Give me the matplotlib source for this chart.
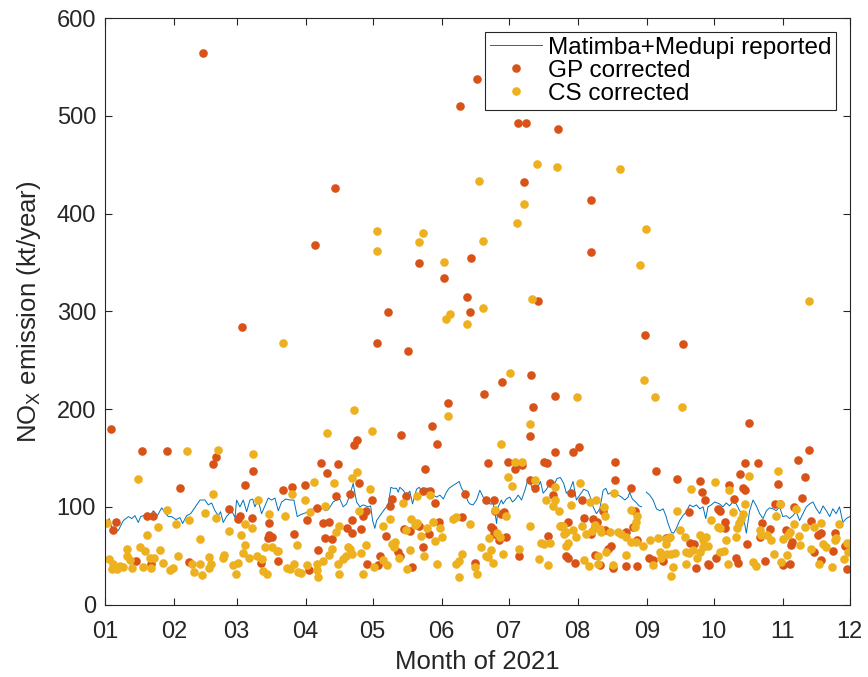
import matplotlib
matplotlib.use('Agg')
import matplotlib.pyplot as plt
import matplotlib.dates as mdates
import numpy as np

plt.rcParams['font.family'] = ['Liberation Sans', 'DejaVu Sans']
plt.rcParams['mathtext.fontset'] = 'custom'
plt.rcParams['mathtext.rm'] = 'Liberation Sans'
plt.rcParams['mathtext.it'] = 'Liberation Sans:italic'

# days since 2021-01-01
rep_day = [0.8, 1.9, 3.0, 4.5, 6.0, 8.2, 10.5, 12.0, 13.4, 14.9, 16.0, 17.2, 18.7, 20.2, 21.7, 23.5,
           25.4, 26.9, 28.4, 29.9, 31.8, 33.6, 34.8, 36.6, 38.4, 39.9, 41.1, 42.6,
           44.8, 46.3, 47.8, 49.3, 50.8, 51.8, 53.0, 54.5, 56.8, 58.3, 59.0, 60.5, 62.0, 63.5, 65.0,
           66.2, 67.2, 68.7, 70.2, 71.7, 73.2, 74.7, 76.2, 77.7, 79.2, 81.1, 82.9, 84.7, 86.2, 87.7,
           90.1, 91.6, 93.4, 95.6, 97.9, 98.6, 100.1,
           102.3, 103.8, 105.3, 106.8, 108.3, 109.8, 111.3, 112.8, 114.3, 115.8, 118.0, 119.1, 120.0,
           121.0, 121.8, 123.3, 125.5, 127.0, 128.2, 129.2, 130.7, 131.5, 132.2, 133.7, 135.2, 136.7,
           137.9, 139.7, 140.9, 142.0, 143.4, 145.7, 147.2, 148.7, 150.2, 151.7, 153.1, 154.3, 156.1,
           157.6, 158.8, 159.9, 161.4, 162.9, 163.6,
           165.1, 166.6, 168.1, 169.6, 171.1, 172.6, 174.1, 174.8, 175.6, 176.3, 177.8, 178.5, 180.0,
           181.5, 182.7, 183.8, 185.3, 186.8, 188.3, 189.8, 190.8, 192.3, 193.8, 195.3, 196.5, 198.0,
           200.2, 201.7, 202.7, 204.2, 205.7, 206.9, 208.4, 209.9, 211.4, 212.9, 214.7, 216.6, 218.1,
           218.9, 220.4, 221.9,
           223.4, 224.6, 225.6, 227.1, 228.6, 230.1, 231.6, 233.1, 234.6, 235.3, 236.5, 238.0, 239.5,
           240.6, 241.7, 242.8, 244.3, 245.8, 247.3, 248.8, 250.3, 251.5, 252.5, 254.0, 255.0, 256.2,
           257.7, 259.2, 260.7, 262.2, 263.7, 265.2, 266.7, 268.2, 269.4, 270.4, 271.9, 273.4, 275.6,
           277.1, 278.6, 280.1, 281.6, 283.1, 284.6, 286.1, 287.6, 289.1, 290.6, 292.1, 293.6, 295.1,
           296.6, 298.1, 299.6, 301.0, 302.5, 304.0, 305.5, 307.0, 308.5, 310.0, 311.5, 313.0, 314.5,
           316.0, 317.5, 319.0, 320.5, 322.0, 323.5, 325.0, 326.4, 327.9, 329.4, 330.9, 332.4, 333.9]
rep_val = [84, 88, 79, 75, 76, 86, 90, 88, 91, 84, 90, 91, 93, 91, 96, 91,
           99, 94, 90, 90, 87, 89, 83, 91, 93, 98, 102, 107,
           107, 102, 104, 96, 91, 95, 84, 90, 96, 89, 107, 100, 107, 95, 107,
           108, 100, 107, 93, 101, 109, 107, 109, 96, 105, 108, 107, 107, 90, 92,
           94, 96, 98, 95, 100, 96, 97,
           105, 107, 108, 100, 103, 112, 124, 105, 100, 102, 100, 101, 86,
           78, 86, 91, 98, 102, 120, 119, 119, 115, 120, 117, 112, 116,
           103, 118, 120, 116, 119, 119, 112, 110, 112, 108, 115, 119, 122,
           124, 126, 119, 114, 105, 103,
           102, 107, 117, 110, 107, 103, 103, 95, 83, 100, 107, 103, 108,
           110, 105, 107, 112, 107, 117, 129, 124, 115, 119, 126, 114, 118,
           127, 124, 129, 130, 124, 114, 117, 126, 107, 112, 118, 116, 107,
           100, 93, 98,
           117, 119, 113, 115, 110, 112, 110, 107, 110, 115, 108, 105, 101,
           100, np.nan, 115, 112, 107, 98, 96, 98, 91, 83, 74, 73, 78,
           86, 91, 95, 102, 100, 102, 98, 100, 88, 100, 102, 105, 103,
           100, 104, 101, 105, 103, 96, 93, 73, 96, 107, 101, 93, 88,
           96, 99, 98, 96, 100, 90, 91, 88, 91, 95, 86, 93, 100,
           103, 105, 98, 93, 101, 96, 90, 98, 93, 100, 84, 88, 90]

gp_day = [44, 159, 103, 94, 141, 152, 162.5, 163.5, 127, 61.5, 122, 136, 153.7, 167, 185, 189, 203,
          188, 218, 218, 164, 194, 242, 259, 191, 178, 170, 202, 192,
          2.7, 16.6, 27.6, 33.6, 18.7, 21.7, 4.8, 3.7, 13.9, 20.6, 37.5,
          49.6, 48.6, 66.5, 96.7, 99.7, 104.3, 62.7, 79.6, 83.8, 89.6, 103.5, 94.9, 55.7, 59.8, 60.5,
          65.7, 90.7, 73.7, 97.9, 100.6, 73.7, 74.7, 72.9, 84.9, 98.6, 101.6, 95.6, 69.8, 77.7, 91.6,
          132.7, 146.7, 148.7, 112.8, 111.8, 143.7, 113.8, 109.8, 119.8, 128.6, 127.8, 134.9, 142.4,
          145.7, 147.9, 161.6, 117, 115.8, 110.9, 108.3, 110.6, 114.8, 134, 136.7, 140, 141, 145.2,
          149.7, 159.9, 125.8, 142.7, 131.5, 132.2, 117.6, 123.3, 122.5, 137.5,
          190.5, 171.8, 180.8, 183.8, 186.8, 201.7, 209.9, 212.6, 197, 198.3, 190.8, 193, 199.5,
          201, 208.9, 170.8, 174.5, 213.7, 174.8, 177.8, 179, 214.9, 218.9, 173, 174, 174.5, 176.8,
          180, 204.7, 207.8, 219.6, 220.7, 206.6, 207.7, 198.7, 185.7, 210.7, 219.6, 165.8, 218.1,
          228.7, 247, 256.7, 266.7, 228.8, 267.9, 269, 235.8, 223.4, 237.6, 261.8, 274.9, 224.1,
          233.5, 236.8, 238.7, 251.8, 252.6, 262.4, 264.2, 226.8, 225.6, 221.9, 227.9, 233.8, 238.7,
          244, 245.8, 250.3, 264.9, 270.4, 270.9, 273.9, 278, 279.8,
          288.8, 315.7, 310.8, 286.9, 292.8, 284.9, 313.8, 301.8, 286, 286.9, 282, 312.7, 300.3,
          302.9, 308.8, 275.7, 277.9, 294.8, 298, 293.9, 305.5, 316.7, 319.8, 321.3, 327.2, 326.4,
          318, 332, 332.9, 287.9, 282.8, 283.9, 295.8, 304.1, 307.1, 320.9, 307.8, 308.1]
gp_val = [564, 510, 426, 368, 350, 334, 315, 299, 299, 284, 268, 259, 206, 538, 493, 493, 487,
          432, 414, 361, 355, 311, 276, 267, 235, 228, 215, 213, 202,
          180, 157, 157, 119, 91, 91, 84, 76, 45, 42, 44,
          151, 144, 137, 145, 135, 144, 122, 117, 120, 122, 111, 99, 98, 88, 91,
          89, 87, 83, 83, 84, 71, 69, 68, 72, 68, 67, 56, 43, 45, 35,
          174, 183, 164, 168, 163, 139, 124, 113, 107, 108, 101, 111, 116,
          116, 104, 113, 96, 91, 87, 78, 73, 77, 77, 75, 82, 80, 72,
          85, 90, 70, 59, 54, 50, 41, 50, 40, 38,
          172, 145, 146, 139, 143, 156, 156, 161, 146, 145, 127, 119, 124,
          112, 114, 107, 107, 107, 96, 93, 95, 89, 88, 79, 77, 72, 66,
          69, 80, 84, 79, 84, 50, 48, 70, 50, 43, 51, 43, 72,
          146, 137, 128, 126, 127, 115, 107, 119, 96, 96, 95, 98, 76,
          74, 79, 66, 68, 68, 63, 62, 60, 57, 40, 37, 39, 39,
          48, 46, 45, 37, 42, 40, 48, 84, 122,
          186, 158, 148, 145, 145, 134, 131, 123, 119, 117, 108, 109, 103,
          103, 100, 96, 78, 83, 77, 69, 76, 86, 71, 73, 73, 55,
          54, 60, 36, 62, 48, 43, 45, 40, 42, 46, 61, 64]

cs_day = [121.8, 121.8, 140.7, 142.8, 151.8, 152.7, 154.8, 162.5, 79.6, 111.6, 193.8, 202.7, 230.8,
          167.8, 187.8, 184.8, 242.8, 169.7, 239.8, 169.7, 191.7, 315.7, 181.8, 211.7, 241.7, 246.8,
          258.9,
          36.6, 14.8, 27.8, 0.7, 23.6, 31.7, 37.8, 44.7, 18.7, 42.7, 9.7, 15.7, 17.9, 24.5, 1.8, 10,
          11.2, 20.2, 22, 32.6, 25.8, 3.7, 6.7, 3, 5.2, 8.2, 12, 16.9, 20.8, 29.1, 30.6, 39, 39.9, 43.6,
          50.8, 66.5, 99.7, 48.6, 83.7, 93.7, 102.8, 68.7, 89.8, 98.8, 91.9, 49.6, 73.7, 80.7, 62.7,
          65.7, 55.7, 60.8, 103.8, 105, 62.7, 71.7, 74.7, 77.2, 86, 101.6, 100.6, 61.7, 64.7, 68,
          70.2, 53.3, 52.8, 46.8, 47.4, 46.8, 42.6, 57.5, 59.8, 58.8, 77.7, 71, 72.5, 81.7, 82.9,
          84.7, 86.7, 88.1, 90.7, 94.9, 95.6, 94.9, 97.6, 104.6, 105,
          153.9, 119.7, 112.8, 110.7, 118.8, 133.7, 140, 145.7, 114, 127.8, 124.8, 137.4, 138.9, 140,
          134.9, 144.2, 141.9, 146.9, 150.2, 150.9, 147.9, 156.1, 157.2, 163.6, 128.5, 130, 129.5,
          136.7, 142.9, 132, 109, 110, 110.9, 108, 106.8, 114.6, 117, 124.8, 126.5, 120.6, 135.5,
          115.8, 148.7, 160, 157.6, 158.8, 158.8,
          190.8, 177.8, 183.8, 186.8, 180.8, 182.7, 193, 201.7, 213.2, 197.7, 201.7, 201, 203.7,
          208.9, 217.4, 220.4, 174.8, 179.7, 190.8, 175.6, 177.1, 172, 204, 205.4, 206.6, 210, 211,
          213.8, 215.9, 218.2, 205.7, 206.9, 207.7, 195.4, 196.8, 199.5, 168.8, 171.8, 172.9, 170.8,
          178.5, 185.7, 194.7, 198.7, 173.8, 214.7, 217, 221, 221, 165.8, 166.9,
          228.2, 223.7, 224.1, 235.8, 238.7, 238.3, 237.6, 256.7, 262.7, 273.7, 271.9, 274.9, 219.6,
          221.9, 222.6, 226.3, 230.1, 231.6, 233.8, 236, 238.3, 241.3, 244.3, 248, 251.8, 253.3,
          251.8, 257.7, 260, 267, 269.7, 268.2, 263.5, 262, 260.5, 268.2, 270.4, 266.7, 224.6, 233.8,
          245.8, 248.9, 249.5, 252, 253.9, 255.4, 254.5, 253.7, 260.7, 265.5, 278.7, 279.4, 279.8,
          227.9,
          288.8, 301.8, 286.9, 302.9, 309.8, 281.6, 286.1, 285.4, 284.2, 283.4, 301, 275.7, 293.6,
          294.4, 297, 298.8, 308.8, 307.3, 306.3, 304, 311.1, 311.5, 313.8, 318, 321.3, 329.2, 322,
          323.2, 327.2, 328, 316.7, 332.7, 333, 331.6, 282.8, 277.5, 275.7, 290.6, 292.1, 300.1,
          303.3, 305.8, 320, 326]
cs_val = [382, 362, 371, 380, 351, 292, 297, 287, 268, 199, 451, 448, 446,
          433, 410, 391, 384, 372, 347, 303, 313, 311, 237, 212, 230, 212,
          202,
          157, 128, 97, 83, 79, 82, 87, 94, 71, 67, 57, 59, 55, 56, 47, 50,
          46, 48, 48, 50, 43, 42, 39, 36, 36, 38, 37, 38, 37, 35, 37, 42, 33, 30,
          158, 154, 176, 113, 113, 125, 124, 107, 107, 101, 95, 89, 93, 91, 82,
          78, 75, 71, 74, 80, 61, 59, 59, 55, 61, 57, 51, 53, 48, 50,
          47, 51, 48, 49, 42, 37, 42, 40, 43, 31, 55, 34, 31, 37, 36,
          42, 33, 32, 40, 42, 28, 35, 45, 42, 31,
          193, 178, 136, 130, 118, 104, 111, 112, 96, 88, 80, 88, 81, 83,
          76, 78, 70, 85, 78, 69, 65, 88, 90, 82, 62, 64, 59,
          56, 50, 48, 59, 57, 52, 50, 47, 53, 61, 46, 40, 38, 36,
          31, 42, 52, 42, 45, 28,
          185, 164, 146, 146, 131, 121, 127, 120, 124, 107, 107, 101, 96,
          102, 105, 107, 97, 91, 80, 73, 69, 68, 80, 80, 74, 76, 69,
          80, 72, 75, 72, 60, 63, 63, 62, 63, 59, 49, 56, 50,
          52, 57, 47, 40, 43, 46, 39, 50, 42, 38, 31,
          114, 100, 91, 97, 91, 84, 79, 96, 118, 125, 87, 79, 81,
          77, 74, 74, 74, 72, 69, 64, 64, 60, 66, 68, 67, 69,
          62, 76, 69, 71, 69, 66, 56, 53, 54, 59, 60, 54, 54, 51,
          40, 54, 48, 52, 52, 53, 38, 29, 42, 48, 66, 42, 117,
          40,
          132, 137, 103, 103, 98, 95, 93, 88, 83, 78, 91, 78, 76,
          71, 71, 66, 82, 74, 71, 67, 70, 61, 79, 79, 83, 82, 62,
          59, 66, 68, 57, 63, 54, 47, 69, 55, 54, 44, 39, 52,
          44, 51, 42, 38]

start = mdates.date2num(np.datetime64('2021-01-01'))

fig = plt.figure(figsize=(8.68, 6.77), dpi=100)
ax = fig.add_axes([0.121, 0.107, 0.858, 0.866])

ax.plot(start + np.array(rep_day), rep_val, color='#0072BD', lw=0.7,
        label='Matimba+Medupi reported')
ax.plot(start + np.array(gp_day), gp_val, 'o', ls='none', color='#D95319', ms=6.2, mew=0,
        label='GP corrected')
ax.plot(start + np.array(cs_day), cs_val, 'o', ls='none', color='#EDB120', ms=6.2, mew=0,
        label='CS corrected')

ax.set_xlim(start, start + 334)
ax.set_ylim(0, 600)
ax.set_yticks(range(0, 601, 100))
ax.xaxis.set_major_locator(mdates.MonthLocator())
ax.xaxis.set_major_formatter(mdates.DateFormatter('%m'))
ax.tick_params(direction='in', top=True, right=True, labelsize=17, length=5,
               color='#262626', labelcolor='#262626', width=0.8)
ax.tick_params(axis='x', pad=12)
ax.tick_params(axis='y', pad=6.5)
for sp in ax.spines.values():
    sp.set_color('#262626')
    sp.set_linewidth(0.8)

ax.set_xlabel('Month of 2021', fontsize=18.5, color='#262626', labelpad=5)
ax.set_ylabel('NO$_\\mathrm{X}$ emission (kt/year)', fontsize=18.5, color='#262626',
              labelpad=10)

leg = ax.legend(loc='upper right', fontsize=17.5, fancybox=False, edgecolor='#262626',
                framealpha=1, handlelength=2.15, handletextpad=0.25, borderaxespad=0.55,
                borderpad=0.2, labelspacing=0.05, numpoints=1)
leg.get_frame().set_linewidth(0.8)

fig.savefig('out.png', dpi=100)
